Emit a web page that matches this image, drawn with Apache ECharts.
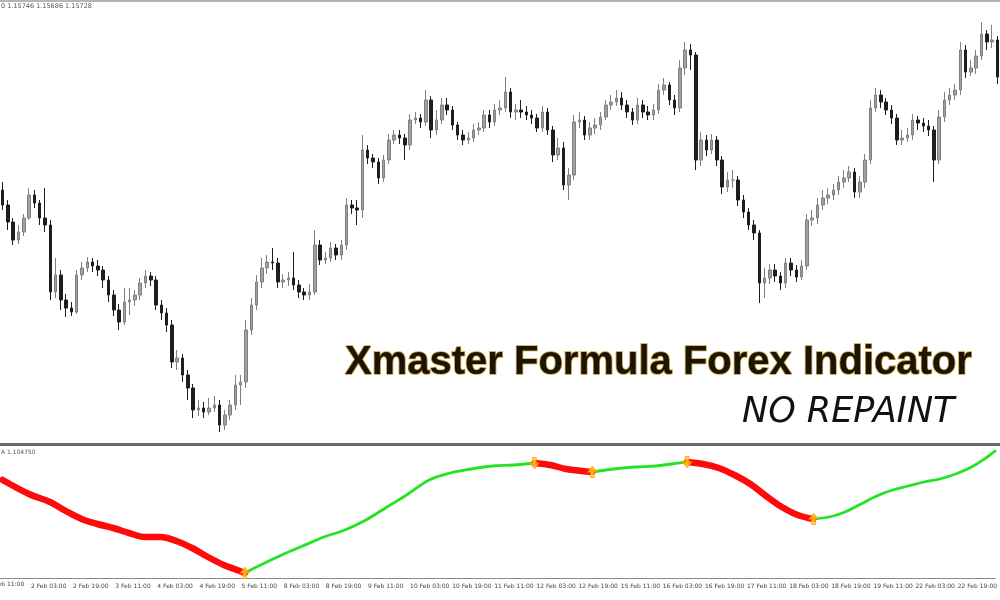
<!DOCTYPE html>
<html><head><meta charset="utf-8">
<script src="https://cdn.jsdelivr.net/npm/echarts@6/dist/echarts.min.js"></script>
<style>html,body{margin:0;padding:0;background:#fff}#c{width:1000px;height:600px}</style>
</head><body><div id="c"></div>
<script>
// ---- price data (2-hour bars) ----
const firstOpen = 1.1460;
const closes = [
1.1445,1.1428,1.1410,1.1418,1.1432,1.1455,1.1447,1.1432,1.1425,1.1358,
1.1375,1.1350,1.1342,1.1338,1.1375,1.1382,1.1388,1.1384,1.1380,1.1370,
1.1355,1.1340,1.1328,1.1348,1.1350,1.1355,1.1367,1.1374,1.1370,1.1345,
1.1337,1.1325,1.1288,1.1292,1.1275,1.1262,1.1240,1.1242,1.1238,1.1242,
1.1245,1.1225,1.1235,1.1245,1.1265,1.1268,1.1320,1.1345,1.1368,1.1382,
1.1388,1.1387,1.1368,1.1370,1.1372,1.1365,1.1358,1.1355,1.1358,1.1405,
1.1390,1.1392,1.1402,1.1395,1.1405,1.1445,1.1442,1.1440,1.1500,1.1492,
1.1488,1.1472,1.1490,1.1510,1.1515,1.1512,1.1505,1.1530,1.1532,1.1528,
1.1550,1.1520,1.1530,1.1545,1.1540,1.1525,1.1515,1.1510,1.1512,1.1520,
1.1522,1.1535,1.1528,1.1540,1.1542,1.1558,1.1538,1.1540,1.1538,1.1535,
1.1532,1.1522,1.1538,1.1520,1.1495,1.1502,1.1465,1.1475,1.1528,1.1530,
1.1515,1.1522,1.1525,1.1533,1.1545,1.1548,1.1552,1.1545,1.1538,1.1530,
1.1545,1.1538,1.1535,1.1540,1.1560,1.1565,1.1550,1.1542,1.1582,1.1600,
1.1595,1.1490,1.1510,1.1500,1.1510,1.1490,1.1463,1.1470,1.1470,1.1450,
1.1438,1.1425,1.1417,1.1367,1.1372,1.1380,1.1374,1.1367,1.1387,1.1380,
1.1373,1.1384,1.1430,1.1432,1.1445,1.1452,1.1455,1.1460,1.1468,1.1472,
1.1478,1.1458,1.1468,1.1490,1.1542,1.1555,1.1548,1.1540,1.1532,1.1510,
1.1512,1.1515,1.1530,1.1527,1.1524,1.1520,1.1490,1.1533,1.1550,1.1555,
1.1560,1.1600,1.1578,1.1582,1.1594,1.1616,1.1608,1.1610,1.1573
];
const highs = [
1.1468,1.1450,1.1432,1.1425,1.1436,1.1462,1.1460,1.1450,1.1462,1.1430,
1.1392,1.1380,1.1356,1.1348,1.1380,1.1388,1.1393,1.1392,1.1390,1.1384,
1.1374,1.1360,1.1346,1.1362,1.1362,1.1360,1.1372,1.1380,1.1378,1.1374,
1.1350,1.1342,1.1330,1.1300,1.1296,1.1280,1.1266,1.1250,1.1248,1.1252,
1.1254,1.1250,1.1240,1.1250,1.1275,1.1275,1.1330,1.1352,1.1375,1.1392,
1.1395,1.1402,1.1392,1.1376,1.1378,1.1398,1.1370,1.1362,1.1366,1.1420,
1.1410,1.1398,1.1408,1.1406,1.1410,1.1452,1.1450,1.1450,1.1515,1.1505,
1.1496,1.1492,1.1495,1.1516,1.1520,1.1520,1.1516,1.1536,1.1538,1.1536,
1.1560,1.1554,1.1540,1.1552,1.1552,1.1544,1.1528,1.1520,1.1518,1.1526,
1.1528,1.1540,1.1540,1.1546,1.1550,1.1573,1.1562,1.1546,1.1550,1.1544,
1.1540,1.1536,1.1544,1.1542,1.1524,1.1512,1.1508,1.1482,1.1535,1.1538,
1.1534,1.1528,1.1532,1.1538,1.1550,1.1555,1.1560,1.1558,1.1550,1.1542,
1.1552,1.1550,1.1544,1.1546,1.1566,1.1572,1.1568,1.1555,1.1590,1.1608,
1.1606,1.1598,1.1518,1.1515,1.1516,1.1514,1.1494,1.1478,1.1480,1.1474,
1.1455,1.1442,1.1430,1.1420,1.1382,1.1386,1.1386,1.1378,1.1392,1.1392,
1.1385,1.1390,1.1436,1.1440,1.1452,1.1460,1.1462,1.1466,1.1474,1.1480,
1.1484,1.1482,1.1474,1.1496,1.1550,1.1562,1.1560,1.1552,1.1545,1.1536,
1.1520,1.1522,1.1536,1.1534,1.1532,1.1530,1.1524,1.1540,1.1558,1.1562,
1.1566,1.1608,1.1605,1.1590,1.1600,1.1628,1.1620,1.1625,1.1614
];
const lows = [
1.1440,1.1420,1.1405,1.1406,1.1414,1.1430,1.1442,1.1425,1.1418,1.1350,
1.1352,1.1340,1.1333,1.1334,1.1336,1.1370,1.1378,1.1378,1.1374,1.1362,
1.1348,1.1334,1.1320,1.1325,1.1335,1.1344,1.1350,1.1362,1.1364,1.1340,
1.1330,1.1318,1.1282,1.1280,1.1268,1.1250,1.1232,1.1234,1.1232,1.1235,
1.1238,1.1218,1.1220,1.1230,1.1240,1.1245,1.1262,1.1315,1.1340,1.1362,
1.1376,1.1380,1.1362,1.1362,1.1364,1.1360,1.1352,1.1350,1.1350,1.1355,
1.1385,1.1386,1.1388,1.1390,1.1390,1.1400,1.1436,1.1425,1.1432,1.1486,
1.1482,1.1466,1.1468,1.1486,1.1506,1.1506,1.1490,1.1500,1.1526,1.1522,
1.1524,1.1512,1.1515,1.1526,1.1535,1.1520,1.1510,1.1505,1.1506,1.1508,
1.1515,1.1518,1.1522,1.1524,1.1535,1.1538,1.1532,1.1530,1.1532,1.1530,
1.1526,1.1518,1.1518,1.1515,1.1488,1.1490,1.1460,1.1450,1.1470,1.1522,
1.1510,1.1510,1.1516,1.1520,1.1530,1.1540,1.1544,1.1540,1.1532,1.1525,
1.1526,1.1532,1.1530,1.1530,1.1536,1.1555,1.1545,1.1535,1.1538,1.1575,
1.1580,1.1480,1.1484,1.1494,1.1496,1.1484,1.1456,1.1458,1.1462,1.1444,
1.1432,1.1420,1.1410,1.1347,1.1352,1.1366,1.1368,1.1360,1.1362,1.1374,
1.1368,1.1370,1.1380,1.1424,1.1426,1.1440,1.1446,1.1450,1.1455,1.1462,
1.1468,1.1452,1.1452,1.1462,1.1486,1.1538,1.1542,1.1535,1.1526,1.1505,
1.1505,1.1508,1.1510,1.1520,1.1518,1.1514,1.1468,1.1486,1.1528,1.1545,
1.1550,1.1555,1.1572,1.1574,1.1576,1.1590,1.1600,1.1602,1.1566
];
// ---- time axis ----
const startTime = Date.UTC(2016, 1, 1, 17); // first bar: 1 Feb 17:00
const barHours = 2;
const labelEvery = 8;   // one label each 16 hours
const labelOffset = 5;  // first full label: 2 Feb 03:00
const monthNames = ['Jan','Feb','Mar','Apr','May','Jun','Jul','Aug','Sep','Oct','Nov','Dec'];
// ---- indicator (bar index, value) ----
const indBars = [0,5,9,12,15,18,21,24,27,30,33,36,39,42,44,46,
 49,53,57,61,65,69,73,77,81,85,89,93,97,101,
 104,107,110,112,
 116,120,124,127,130,
 133,136,139,142,145,148,151,154,
 157,160,163,166,169,172,175,178,181,184,187,188.5];
const indVals = [1.1098,1.1084,1.1076,1.1067,1.1059,1.1054,1.1050,1.1045,1.1041,1.1041,1.1037,1.1030,1.1021,1.1013,1.1009,1.1005,
 1.1013,1.1023,1.1032,1.1041,1.1048,1.1058,1.1071,1.1084,1.1098,1.1105,1.1109,1.1112,1.1113,1.1115,
 1.1113,1.1109,1.1107,1.1106,
 1.1109,1.1111,1.1112,1.1114,1.1116,
 1.1114,1.1110,1.1103,1.1094,1.1082,1.1071,1.1063,1.1059,
 1.1061,1.1066,1.1074,1.1082,1.1088,1.1092,1.1096,1.1099,1.1104,1.1111,1.1121,1.1127];
const turnBars = [46, 101, 112, 130, 154];
const turnSignals = ['buy', 'sell', 'buy', 'sell', 'buy'];
// ---- texts ----
const headerText = '0 1.15746 1.15686 1.15728';
const indicatorLabel = 'A 1.104750';
const titleText = 'Xmaster Formula Forex Indicator';
const subtitleText = 'NO REPAINT';

function pad(n){return (n<10?'0':'')+n;}
function fmt(t){const d=new Date(t);return d.getUTCDate()+' '+monthNames[d.getUTCMonth()]+' '+pad(d.getUTCHours())+':00';}
const categories=[];
let t=startTime;
while(categories.length<closes.length){
  const wd=new Date(t).getUTCDay();
  if(wd!==0&&wd!==6) categories.push(fmt(t));
  t+=barHours*3600000;
}
const candleData = closes.map((c,i)=>[i===0?firstOpen:closes[i-1], c, lows[i], highs[i]]);

// indicator segments
const bounds=[indBars[0], ...turnBars, indBars[indBars.length-1]];
const segSeries=[];
for(let k=0;k<bounds.length-1;k++){
  const up = k>0 && turnSignals[k-1]==='buy';
  const pts=[];
  indBars.forEach((b,j)=>{ if(b>=bounds[k]&&b<=bounds[k+1]) pts.push([b,indVals[j]]); });
  segSeries.push({
    type:'line', xAxisIndex:2, yAxisIndex:1, data:pts, smooth:0.35, symbol:'none', z: up?3:4,
    lineStyle:{color: up?'#22e422':'#ff0a0a', width: up?2.8:6.5, cap:'round', join:'round'},
    silent:true, animation:false
  });
}
const upArrow='path://M5,0 L10,5 L7,5 L7,10 L3,10 L3,5 L0,5 Z';
const downArrow='path://M5,10 L10,5 L7,5 L7,0 L3,0 L3,5 L0,5 Z';
const arrowData = turnBars.map((b,k)=>({
  value:[b, indVals[indBars.indexOf(b)]],
  symbol: turnSignals[k]==='buy'?upArrow:downArrow
}));

const tickFn = i => i>=labelOffset && (i-labelOffset)%labelEvery===0;
const step = 1000/closes.length;
const hiddenLabelX = (labelOffset-labelEvery+0.5)*step;

const chart=echarts.init(document.getElementById('c'),null,{renderer:'canvas'});
chart.setOption({
  animation:false,
  backgroundColor:'#ffffff',
  grid:[
    {left:0,right:0,top:0,height:443},
    {left:0,right:0,top:447,height:131}
  ],
  xAxis:[
    {type:'category',gridIndex:0,data:categories,boundaryGap:true,show:false},
    {type:'category',gridIndex:1,data:categories,boundaryGap:true,
      axisLine:{lineStyle:{color:'#8a8a8a',width:1}},
      axisTick:{alignWithLabel:true,interval:tickFn,length:3,lineStyle:{color:'#666'}},
      axisLabel:{interval:tickFn,fontSize:6,color:'#444',align:'left',margin:5,fontFamily:'DejaVu Sans',padding:[0,0,0,2]},
      splitLine:{show:false}},
    {type:'value',gridIndex:1,min:-0.5,max:closes.length-0.5,show:false}
  ],
  yAxis:[
    {type:'value',gridIndex:0,min:1.1207,max:1.1650,show:false,splitLine:{show:false}},
    {type:'value',gridIndex:1,min:1.1000,max:1.1131,show:false,splitLine:{show:false}}
  ],
  series:[
    {type:'candlestick',xAxisIndex:0,yAxisIndex:0,data:candleData,barWidth:3,
      itemStyle:{color:'#a0a0a0',color0:'#1e1e1e',borderColor:'#808080',borderColor0:'#1e1e1e',borderWidth:1},
      silent:true},
    ...segSeries,
    {type:'scatter',xAxisIndex:2,yAxisIndex:1,data:arrowData,symbolSize:[9,11],z:6,
      itemStyle:{color:'#ffd21a',borderColor:'#ff9a00',borderWidth:1},silent:true}
  ],
  graphic:[
    {type:'rect',shape:{x:0,y:0,width:1000,height:2},style:{fill:'#b5b5b5'},silent:true},
    {type:'rect',shape:{x:0,y:443,width:1000,height:3},style:{fill:'#6a6a6a'},silent:true},
    {type:'text',x:1,y:3,style:{text:headerText,font:'6.5px "DejaVu Sans"',fill:'#555'},silent:true},
    {type:'text',x:1,y:449,style:{text:indicatorLabel,font:'6px "DejaVu Sans"',fill:'#555'},silent:true},
    {type:'text',x:hiddenLabelX+2,y:581,style:{text:fmt(startTime+(labelOffset-labelEvery)*barHours*3600000),font:'6px "DejaVu Sans"',fill:'#444'},silent:true},
    {type:'text',x:345,y:363,style:{text:titleText,font:'bold 40px "Liberation Sans"',fill:'#1c1406',stroke:'#c9a13a',lineWidth:1.6,
      verticalAlign:'middle',shadowBlur:12,shadowColor:'rgba(0,0,0,0.6)',shadowOffsetX:2,shadowOffsetY:6},z:20,silent:true},
    {type:'text',x:742,y:413,style:{text:subtitleText,font:'italic 35px "DejaVu Sans"',fill:'#111',verticalAlign:'middle'},z:20,silent:true}
  ]
});
</script>
</body></html>
